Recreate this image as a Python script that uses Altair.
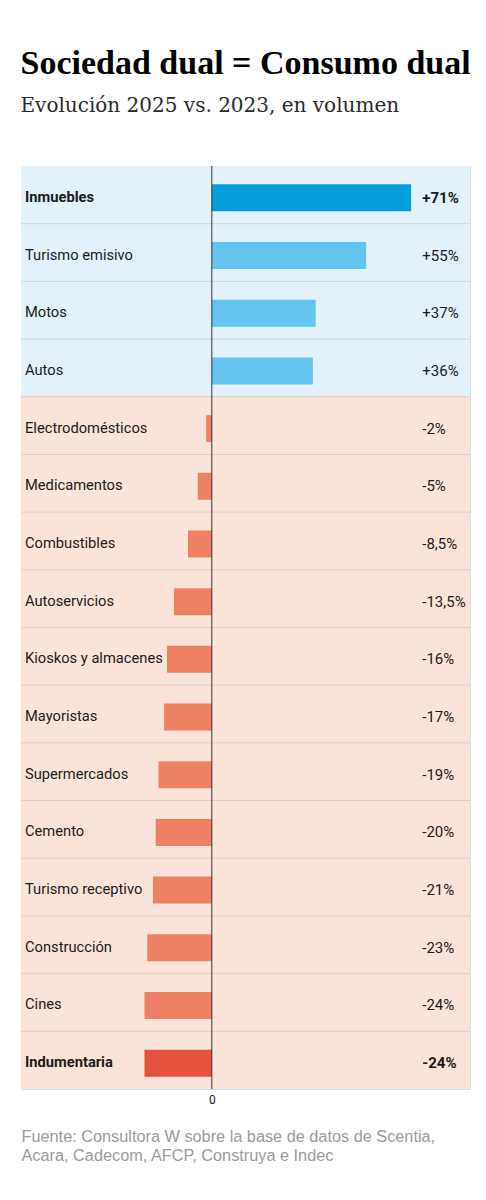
import altair as alt
import pandas as pd

categories = ["Inmuebles", "Turismo emisivo", "Motos", "Autos", "Electrodomésticos",
              "Medicamentos", "Combustibles", "Autoservicios", "Kioskos y almacenes",
              "Mayoristas", "Supermercados", "Cemento", "Turismo receptivo",
              "Construcción", "Cines", "Indumentaria"]
values = [71, 55, 37, 36, -2, -5, -8.5, -13.5, -16, -17, -19, -20, -21, -23, -24, -24]
value_labels = ["+71%", "+55%", "+37%", "+36%", "-2%", "-5%", "-8,5%", "-13,5%", "-16%",
                "-17%", "-19%", "-20%", "-21%", "-23%", "-24%", "-24%"]
highlight = [True] + [False] * 14 + [True]

BLUE_BG, PINK_BG = "#e3f1fa", "#fae4da"
BLUE_SEP, PINK_SEP = "#c6d8e3", "#e2cbc1"
BLUE_DARK, BLUE_LIGHT = "#069edc", "#63c4ef"
RED_DARK, RED_LIGHT = "#e5513d", "#ee8063"

rows = []
for i, (c, v, lab, h) in enumerate(zip(categories, values, value_labels, highlight)):
    pos = v > 0
    rows.append({
        "cat": c, "value": v, "label": lab, "bold": h, "idx": i,
        "bg": BLUE_BG if pos else PINK_BG,
        "sep": BLUE_SEP if pos else PINK_SEP,
        "bar": (BLUE_DARK if h else BLUE_LIGHT) if pos else (RED_DARK if h else RED_LIGHT),
    })
df = pd.DataFrame(rows)

W, H = 449, 923
XMIN, XMAX = -68, 92
xscale = alt.Scale(domain=[XMIN, XMAX], nice=False, zero=False)
yenc = alt.Y("cat:N", sort=categories, axis=None,
             scale=alt.Scale(paddingInner=0, paddingOuter=0))

base = alt.Chart(df)

bg = base.mark_rect().encode(
    y=yenc, x=alt.value(0), x2=alt.value(W),
    color=alt.Color("bg:N", scale=None),
)

seps = base.transform_filter("datum.idx > 0").mark_rule(strokeWidth=1).encode(
    y=alt.Y("cat:N", sort=categories, axis=None, bandPosition=0),
    x=alt.value(0), x2=alt.value(W),
    color=alt.Color("sep:N", scale=None),
)

bars = base.mark_bar(size=27, yOffset=3).encode(
    y=yenc,
    x=alt.X("value:Q", scale=xscale,
            axis=alt.Axis(values=[0], ticks=False, domain=False, grid=False,
                          labelFont="Roboto", labelFontSize=12, labelColor="#222",
                          labelPadding=5,
                          title=["Fuente: Consultora W sobre la base de datos de Scentia,",
                                 "Acara, Cadecom, AFCP, Construya e Indec"],
                          titleAnchor="start", titleAlign="left", titleX=0, titleY=52,
                          titleBaseline="alphabetic", titleFont="Liberation Sans",
                          titleFontSize=16.3, titleFontWeight="normal",
                          titleColor="#9a9a9a", titleLineHeight=19)),
    x2=alt.datum(0),
    color=alt.Color("bar:N", scale=None),
)

zero = alt.Chart(pd.DataFrame({"z": [0]})).mark_rule(color="#333", strokeWidth=1).encode(
    x=alt.X("z:Q", scale=xscale)
)

def cat_text(bold):
    return base.transform_filter(f"datum.bold == {'true' if bold else 'false'}").mark_text(
        align="left", baseline="middle", dx=4, yOffset=3, font="Roboto", fontSize=14.7,
        fontWeight="bold" if bold else "normal", color="#1a1a1a"
    ).encode(y=yenc, x=alt.datum(XMIN), text="cat:N")

def val_text(bold):
    return base.transform_filter(f"datum.bold == {'true' if bold else 'false'}").mark_text(
        align="left", baseline="middle", yOffset=3, font="Roboto", fontSize=15,
        fontWeight="bold" if bold else "normal", color="#1a1a1a"
    ).encode(y=yenc, x=alt.datum(75), text="label:N")

chart = alt.layer(
    bg, seps, bars, zero, cat_text(False), cat_text(True), val_text(False), val_text(True)
).properties(
    width=W, height=H,
    padding={"left": 12, "top": 38, "right": 5, "bottom": 5},
    title=alt.Title("Sociedad dual = Consumo dual",
                    subtitle="Evolución 2025 vs. 2023, en volumen",
                    anchor="start", font="Liberation Serif", fontSize=34,
                    fontWeight="bold", color="#000",
                    subtitleFont="DejaVu Serif", subtitleFontSize=20,
                    subtitleColor="#2a2a2a", subtitlePadding=15, offset=50),
).configure_view(stroke=None).configure(background="white")

chart.save("out.html", embed_options={"renderer": "svg", "actions": False})
